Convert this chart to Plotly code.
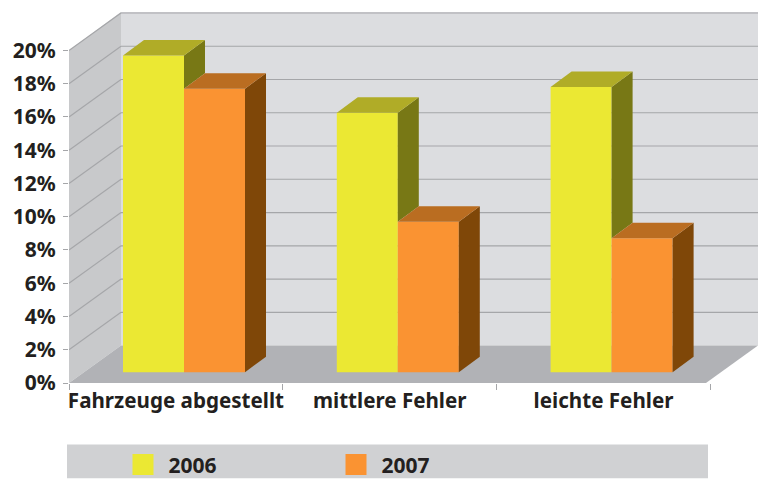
import plotly.graph_objects as go

categories = ["Fahrzeuge abgestellt", "mittlere Fehler", "leichte Fehler"]
series_names = ["2006", "2007"]
values_2006 = [19.05, 15.6, 17.15]
values_2007 = [17.05, 9.05, 8.05]
y_ticks = [0, 2, 4, 6, 8, 10, 12, 14, 16, 18, 20]

# geometry in axis units (1 x-unit = one category, 1 y-unit = 1%)
PX_X, PX_Y = 213.8, 16.65
XMAX, YMAX = 689 / PX_X, 371.5 / PX_Y
WALL_DX, WALL_DY = 52 / PX_X, 37.5 / PX_Y
BAR_DX, BAR_DY = 21 / PX_X, 15.5 / PX_Y
BAR_W = 61 / PX_X
BAR_START = 54 / PX_X
BAR_BASE = 0.65

YEL, YEL_TOP, YEL_SIDE = "#ebe833", "#b0ac27", "#787815"
ORG, ORG_TOP, ORG_SIDE = "#fa9332", "#ba6d21", "#7f4708"
BACK, LEFT, FLOOR, GRID, BAND = "#dcdde0", "#c8c9cb", "#b1b2b6", "#a5a6a9", "#d0d1d3"
INK = "#231f20"
FONT = "Noto Sans"


def poly(xs, ys, color):
    return dict(type="path", layer="below", line_width=0, fillcolor=color, xref="x", yref="y",
                path="M" + " L".join(f"{x},{y}" for x, y in zip(xs, ys)) + " Z")


shapes = [
    poly([WALL_DX, XMAX, XMAX, WALL_DX], [WALL_DY, WALL_DY, YMAX, YMAX], BACK),
    poly([0, WALL_DX, WALL_DX, 0], [0, WALL_DY, YMAX, 20], LEFT),
    poly([0, XMAX - WALL_DX, XMAX, WALL_DX], [0, 0, WALL_DY, WALL_DY], FLOOR),
    dict(type="rect", layer="below", line_width=0, fillcolor=BAND, xref="paper", yref="paper",
         x0=-2 / 689, x1=639 / 689, y0=-95.5 / 371.5, y1=-61.5 / 371.5),
]
for t in y_ticks:
    if t == 0:
        continue
    shapes.append(dict(type="line", layer="below", xref="x", yref="y", x0=0, y0=t, x1=WALL_DX,
                       y1=t + WALL_DY, line=dict(color=GRID, width=1.1)))
    shapes.append(dict(type="line", layer="below", xref="x", yref="y", x0=WALL_DX, y0=t + WALL_DY,
                       x1=XMAX, y1=t + WALL_DY, line=dict(color=GRID, width=1.2)))

fig = go.Figure()
x06 = [i + BAR_START + BAR_W / 2 for i in range(3)]
x07 = [i + BAR_START + BAR_W * 1.5 for i in range(3)]
fig.add_bar(x=x06, y=values_2006, base=BAR_BASE, width=BAR_W, marker=dict(color=YEL, line_width=0),
            showlegend=False, hoverinfo="skip")
fig.add_bar(x=x07, y=values_2007, base=BAR_BASE, width=BAR_W, marker=dict(color=ORG, line_width=0),
            showlegend=False, hoverinfo="skip")


def face(xs, ys, color):
    fig.add_scatter(x=xs, y=ys, mode="lines", fill="toself", fillcolor=color, line=dict(width=0, color=color),
                    showlegend=False, hoverinfo="skip")


for i in range(3):
    xa = i + BAR_START
    xb = xa + BAR_W
    xc = xb + BAR_W
    t6 = values_2006[i] + BAR_BASE
    t7 = values_2007[i] + BAR_BASE
    face([xb, xb + BAR_DX, xb + BAR_DX, xb], [t6, t6 + BAR_DY, t7 + BAR_DY, t7], YEL_SIDE)
    face([xa, xa + BAR_DX, xb + BAR_DX, xb], [t6, t6 + BAR_DY, t6 + BAR_DY, t6], YEL_TOP)
    face([xc, xc + BAR_DX, xc + BAR_DX, xc],
         [t7, t7 + BAR_DY, BAR_BASE + BAR_DY, BAR_BASE], ORG_SIDE)
    face([xb, xb + BAR_DX, xc + BAR_DX, xc], [t7, t7 + BAR_DY, t7 + BAR_DY, t7], ORG_TOP)

for name, col in zip(series_names, [YEL, ORG]):
    fig.add_scatter(x=[None], y=[None], mode="markers", name=name,
                    marker=dict(symbol="square", size=23, color=col, line=dict(width=5, color=col)))

fig.update_layout(
    width=758, height=479, margin=dict(l=69, r=0, t=12, b=95.5, pad=0, autoexpand=False),
    paper_bgcolor="white", plot_bgcolor="white", shapes=shapes, barmode="overlay",
    font=dict(family=FONT, size=20, color=INK, weight=700),
    legend=dict(orientation="h", x=48.5 / 689, y=-61.5 / 371.5, xanchor="left", yanchor="top",
                bgcolor="rgba(0,0,0,0)", itemwidth=41, entrywidth=157, entrywidthmode="pixels",
                itemsizing="trace", font=dict(family=FONT, size=21, color=INK, weight=700)),
    xaxis=dict(range=[0, XMAX], showgrid=False, zeroline=False, showline=False,
               tickvals=[0.5, 1.5, 2.5], ticktext=categories, ticks="", ticklabelstandoff=3,
               minor=dict(tickvals=[0, 1, 2, 3], ticks="outside", ticklen=6, tickcolor=GRID, tickwidth=1.2),
               tickfont=dict(family=FONT, size=20.6, color=INK, weight=700)),
    yaxis=dict(range=[0, YMAX], showgrid=False, zeroline=False, showline=False,
               tickvals=y_ticks, ticktext=[f"{t}%" for t in y_ticks], ticks="outside", ticklen=5,
               ticklabelstandoff=3, tickcolor=GRID, tickwidth=1.2,
               tickfont=dict(family=FONT, size=21, color=INK, weight=700)),
)
fig.write_html("out.html", config={"displayModeBar": False},
               post_script="document.body.style.margin='0';")
